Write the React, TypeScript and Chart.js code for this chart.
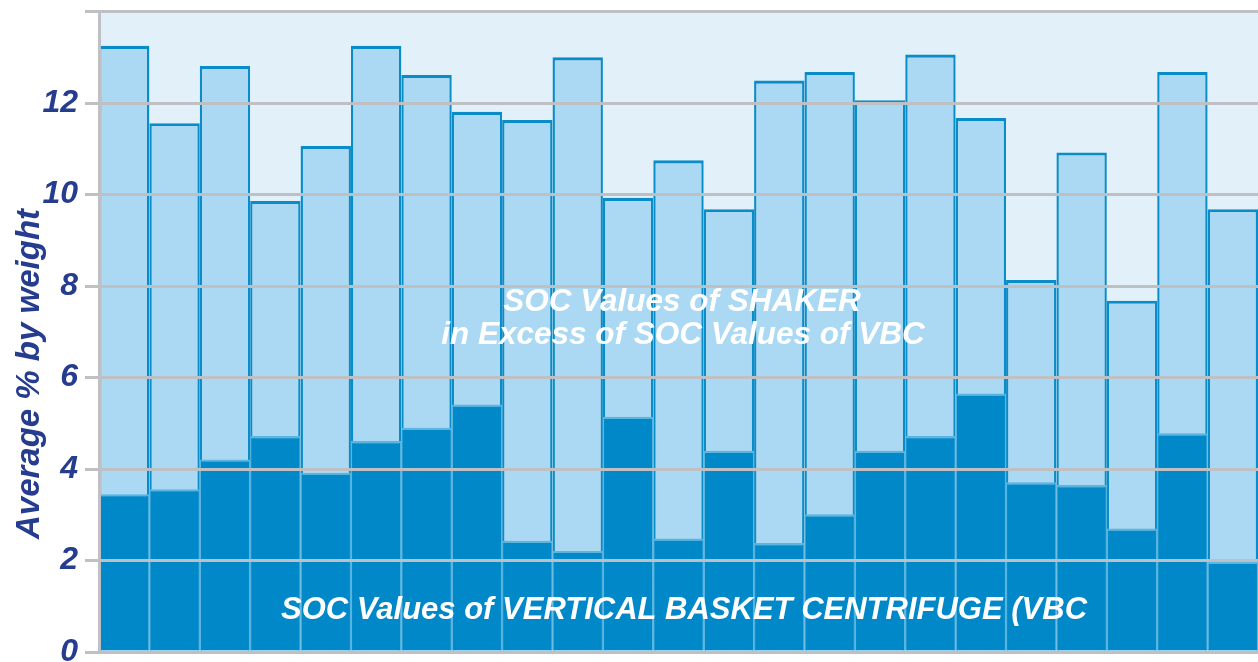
import React, { useEffect, useRef } from "react";
import { Chart, registerables } from "chart.js";

Chart.register(...registerables);

const categories: string[] = [
  "1", "2", "3", "4", "5", "6", "7", "8", "9", "10", "11", "12",
  "13", "14", "15", "16", "17", "18", "19", "20", "21", "22", "23",
];

// SOC values of shaker (total bar height, % by weight)
const shakerValues: number[] = [
  13.25, 11.56, 12.81, 9.86, 11.06, 13.25, 12.61, 11.81, 11.63, 13.0, 9.93, 10.75,
  9.68, 12.49, 12.68, 12.06, 13.06, 11.67, 8.13, 10.92, 7.68, 12.68, 9.68,
];

// SOC values of vertical basket centrifuge (VBC)
const vbcValues: number[] = [
  3.45, 3.56, 4.21, 4.72, 3.92, 4.61, 4.9, 5.41, 2.43, 2.21, 5.14, 2.48,
  4.4, 2.38, 3.01, 4.4, 4.72, 5.65, 3.71, 3.65, 2.7, 4.78, 1.97,
];

const yTicks: number[] = [0, 2, 4, 6, 8, 10, 12, 14];
const yTitle = "Average % by weight";
const shakerLabel: string[] = ["SOC Values of SHAKER", "in Excess of SOC Values of VBC"];
const vbcLabel = "SOC Values of VERTICAL BASKET CENTRIFUGE (VBC";

const NAVY = "#253c8f";
const FONT = "'Liberation Sans', Arial, sans-serif";

export default function App() {
  const canvasRef = useRef<HTMLCanvasElement | null>(null);

  useEffect(() => {
    document.body.style.margin = "0";
    const canvas = canvasRef.current;
    if (!canvas) return;

    const bgPlugin = {
      id: "plotBg",
      beforeDraw(chart: any) {
        const { ctx, chartArea } = chart;
        ctx.save();
        ctx.fillStyle = "#e2f0f9";
        ctx.fillRect(chartArea.left, chartArea.top, chartArea.right - chartArea.left, chartArea.bottom - chartArea.top);
        ctx.restore();
      },
    };

    const textPlugin = {
      id: "texts",
      afterDraw(chart: any) {
        const { ctx } = chart;
        ctx.save();
        ctx.fillStyle = "#ffffff";
        ctx.textAlign = "center";
        ctx.textBaseline = "middle";
        ctx.font = `italic bold 31.5px ${FONT}`;
        ctx.fillText(shakerLabel[0], 682, 302);
        ctx.fillText(shakerLabel[1], 683, 335);
        ctx.font = `italic bold 31px ${FONT}`;
        ctx.fillText(vbcLabel, 684, 610);
        ctx.fillStyle = NAVY;
        ctx.font = `italic bold 33px ${FONT}`;
        ctx.translate(30, 374);
        ctx.rotate(-Math.PI / 2);
        ctx.fillText(yTitle, 0, 0);
        ctx.restore();
      },
    };

    const chart = new Chart(canvas, {
      type: "bar",
      data: {
        labels: categories,
        datasets: [
          {
            label: "VBC",
            data: vbcValues,
            backgroundColor: "#0088c9",
            borderColor: "#5ab5e0",
            borderWidth: { top: 2.2, left: 1.3, right: 1.3, bottom: 0 },
            inflateAmount: 0,
            barPercentage: 1,
            categoryPercentage: 1,
          },
          {
            label: "Shaker",
            data: shakerValues,
            backgroundColor: "#abd8f2",
            borderColor: "#0a8cc8",
            borderWidth: { top: 3.2, left: 2.4, right: 2.4, bottom: 0 },
            inflateAmount: 0,
            barPercentage: 1,
            categoryPercentage: 1,
          },
        ],
      },
      plugins: [bgPlugin, textPlugin],
      options: {
        animation: false,
        responsive: false,
        maintainAspectRatio: false,
        layout: { padding: { top: 11.5, bottom: 10, left: 0, right: 0 } },
        plugins: {
          legend: { display: false },
          tooltip: { enabled: false },
          title: { display: false },
        },
        scales: {
          x: {
            display: false,
            stacked: true,
          },
          y: {
            stacked: false,
            min: 0,
            max: 14,
            afterBuildTicks(scale: any) {
              scale.ticks = yTicks.map((v) => ({ value: v }));
            },
            afterFit(scale: any) {
              scale.width = 99;
              scale.paddingTop = 0;
              scale.paddingBottom = 0;
            },
            ticks: {
              padding: 7,
              color: NAVY,
              font: { family: FONT, size: 32, weight: "bold", style: "italic" },
              callback: (v: any) => (Number(v) === 14 ? "" : String(v)),
            },
            grid: {
              color: "#bfc0c4",
              lineWidth: 3,
              tickLength: 14,
              drawTicks: true,
              z: 1,
            },
            border: { display: true, color: "#bfc0c4", width: 3, z: 1 },
          },
        },
      },
    } as any);

    return () => {
      chart.destroy();
    };
  }, []);

  return (
    <div style={{ position: "absolute", left: 0, top: 0, width: 1258, height: 662 }}>
      <canvas ref={canvasRef} width={1258} height={662} style={{ display: "block" }} />
    </div>
  );
}
